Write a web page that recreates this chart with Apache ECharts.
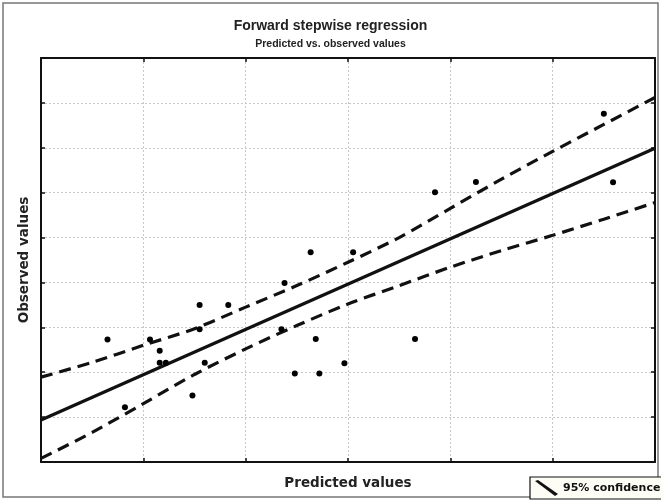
<!DOCTYPE html>
<html>
<head>
<meta charset="utf-8">
<script src="https://cdn.jsdelivr.net/npm/echarts@6/dist/echarts.min.js"></script>
<style>html,body{margin:0;padding:0;background:#fff;}#c{width:661px;height:502px;}</style>
</head>
<body>
<div id="c"></div>
<script>
// Observed vs. predicted points: [predicted, observed]
var points = [
  [0.65, 2.73], [0.82, 1.22], [1.065, 2.73], [1.16, 2.48], [1.16, 2.21], [1.22, 2.21],
  [1.48, 1.48], [1.55, 3.50], [1.55, 2.96], [1.60, 2.21], [1.83, 3.50],
  [2.35, 2.96], [2.38, 3.99], [2.48, 1.97], [2.635, 4.67], [2.685, 2.74], [2.72, 1.97],
  [2.965, 2.20], [3.05, 4.67], [3.655, 2.74], [3.85, 6.01], [4.25, 6.24],
  [5.50, 7.76], [5.59, 6.23]
];
var fitX = [0, 6];
var fitY = [0.935, 6.99];
var bandX = [0, 0.5, 1, 1.5, 2, 2.5, 3, 3.5, 4, 4.5, 5, 5.5, 6];
var upperY = [1.89, 2.22, 2.60, 2.97, 3.45, 3.93, 4.45, 5.00, 5.65, 6.30, 6.92, 7.52, 8.12];
var lowerY = [0.08, 0.66, 1.30, 1.95, 2.52, 3.04, 3.52, 3.93, 4.34, 4.71, 5.05, 5.41, 5.78];

function zip(a, b) { return a.map(function (v, i) { return [v, b[i]]; }); }

var chart = echarts.init(document.getElementById('c'), null, {renderer: 'canvas'});
var font = 'Liberation Sans, Arial, sans-serif';
var wide = 'DejaVu Sans, sans-serif';
function axisCommon(extra) {
  var o = {
    type: 'value', min: 0, interval: 1,
    axisLine: {show: true, onZero: false, lineStyle: {color: '#111', width: 2}},
    axisTick: {show: true, inside: true, length: 4, lineStyle: {color: '#111', width: 1.5}},
    axisLabel: {show: false},
    splitLine: {show: false}
  };
  for (var k in extra) o[k] = extra[k];
  return o;
}
chart.setOption({
  backgroundColor: '#fff',
  animation: false,
  title: {
    text: 'Forward stepwise regression',
    subtext: 'Predicted vs. observed values',
    left: 'center', top: 14, itemGap: 6,
    textStyle: {fontFamily: font, fontSize: 14, fontWeight: 'bold', color: '#222'},
    subtextStyle: {fontFamily: font, fontSize: 10.5, fontWeight: 'bold', color: '#222'}
  },
  legend: {
    data: ['95% confidence'],
    left: 530, top: 477,
    padding: [3, 6, 3, 5],
    itemWidth: 23, itemHeight: 16, itemGap: 2,
    icon: 'path://M0,1 L3,0 L23,14 L20,16 Z',
    backgroundColor: '#fdfdf6',
    borderColor: '#111', borderWidth: 1.2, borderRadius: 0,
    textStyle: {fontFamily: wide, fontSize: 11, fontWeight: 'bold', color: '#111'}
  },
  grid: {left: 41, right: 6, top: 58, bottom: 40, containLabel: false},
  xAxis: [
    axisCommon({max: 6, position: 'bottom', name: 'Predicted values', nameLocation: 'middle', nameGap: 14,
      nameTextStyle: {fontFamily: wide, fontSize: 13.5, fontWeight: 'bold', color: '#222'},
      splitLine: {show: true, lineStyle: {color: '#c8c8c8', type: [2, 2], width: 1}}}),
    axisCommon({max: 6, position: 'top'})
  ],
  yAxis: [
    axisCommon({max: 9, position: 'left', name: 'Observed values', nameLocation: 'middle', nameGap: 10,
      nameTextStyle: {fontFamily: wide, fontSize: 13.5, fontWeight: 'bold', color: '#222'},
      splitLine: {show: true, lineStyle: {color: '#c8c8c8', type: [2, 2], width: 1}}}),
    axisCommon({max: 9, position: 'right'})
  ],
  graphic: [{
    type: 'rect', silent: true, z: -1,
    shape: {x: 3, y: 3, width: 655, height: 494},
    style: {fill: 'none', stroke: '#777', lineWidth: 1.5}
  }],
  series: [
    {
      name: 'Fit', type: 'line', data: zip(fitX, fitY), showSymbol: false,
      lineStyle: {color: '#111', width: 3.2}, z: 3
    },
    {
      name: '95% confidence', type: 'line', data: zip(bandX, upperY), smooth: 0.3, showSymbol: false,
      itemStyle: {color: '#111'},
      lineStyle: {color: '#111', width: 3.2, type: [12, 7]}, z: 3
    },
    {
      name: '95% confidence', type: 'line', data: zip(bandX, lowerY), smooth: 0.3, showSymbol: false,
      itemStyle: {color: '#111'},
      lineStyle: {color: '#111', width: 3.2, type: [12, 7]}, z: 3
    },
    {
      name: 'Observed', type: 'scatter', data: points, symbol: 'circle', symbolSize: 6,
      itemStyle: {color: '#000', opacity: 1}, z: 4
    }
  ]
});
</script>
</body>
</html>
